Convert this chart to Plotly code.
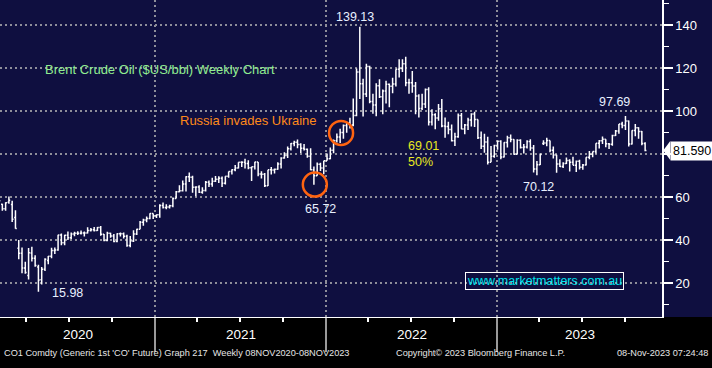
import pandas as pd
import plotly.graph_objects as go

# ---------------- data (weekly Brent, generic 1st future) ----------------
first_week = "2020-02-03"

open_2020 = [60.7, 56.6, 54.5, 57.5, 56.5, 50.5, 36.2, 33.9, 27.0, 23.5, 34.0, 31.5, 27.5, 21.5, 26.4, 30.5, 32.5, 35.1, 35.3, 42.3, 38.7, 42.2, 41.0, 42.8, 43.2, 43.1, 43.3, 43.3, 44.4, 44.8, 44.4, 45.8, 42.7, 39.8, 43.2, 41.9, 39.3, 42.9, 42.9, 41.8, 37.5, 39.5, 42.8, 45.0, 48.2, 49.3, 50.0, 52.3, 51.3]
high_2020 = [61.0, 56.9, 57.6, 60.2, 58.3, 53.8, 40.0, 36.5, 29.9, 36.3, 36.9, 32.9, 28.5, 27.4, 31.5, 32.6, 36.4, 36.5, 42.4, 43.0, 42.5, 43.9, 43.5, 43.8, 44.1, 44.4, 44.0, 45.9, 45.6, 46.0, 46.1, 46.5, 42.8, 43.8, 43.4, 42.8, 43.2, 43.5, 43.5, 42.5, 41.9, 44.5, 45.2, 48.8, 49.9, 50.9, 52.5, 52.3, 51.9]
low_2020 = [57.6, 53.6, 53.6, 56.9, 48.4, 45.2, 31.0, 24.5, 24.3, 21.6, 30.0, 27.6, 15.98, 19.3, 25.6, 28.7, 31.5, 33.5, 35.0, 37.6, 37.6, 40.0, 40.5, 41.8, 42.3, 42.6, 41.6, 43.0, 44.0, 44.0, 44.2, 42.0, 39.4, 39.4, 41.0, 38.9, 39.0, 41.6, 40.7, 36.9, 36.6, 39.1, 42.3, 45.0, 46.6, 48.2, 49.7, 49.8, 50.2]
close_2020 = [58.2, 54.5, 57.3, 58.5, 49.7, 45.3, 33.9, 27.0, 24.9, 34.1, 31.5, 28.1, 21.4, 26.4, 31.0, 32.5, 35.1, 35.3, 42.3, 38.7, 42.2, 41.0, 42.8, 43.2, 43.1, 43.3, 43.3, 44.4, 44.8, 44.4, 45.8, 42.7, 39.8, 43.2, 41.9, 39.3, 42.9, 42.9, 41.8, 37.5, 39.5, 42.8, 45.0, 48.2, 49.3, 50.0, 52.3, 51.3, 51.8]

open_2021 = [51.8, 56.0, 55.1, 55.4, 55.9, 59.3, 62.4, 62.9, 66.1, 69.4, 69.2, 64.5, 64.6, 62.2, 63.0, 66.8, 66.1, 67.3, 68.3, 68.7, 66.4, 69.6, 71.9, 72.7, 73.5, 76.2, 76.2, 75.6, 73.6, 74.1, 76.3, 70.7, 70.6, 65.2, 72.7, 72.6, 72.9, 75.3, 78.1, 79.3, 82.4, 84.9, 85.5, 84.4, 82.7, 82.2, 78.9, 72.7, 69.9, 75.2, 73.5, 76.9]
high_2021 = [56.6, 57.4, 56.6, 56.4, 59.8, 62.8, 65.5, 67.7, 69.6, 71.4, 69.9, 65.0, 65.5, 64.5, 67.4, 67.7, 69.0, 69.8, 69.7, 69.5, 69.6, 71.9, 72.9, 74.9, 76.2, 76.6, 77.8, 77.1, 74.1, 76.4, 76.3, 72.0, 71.1, 72.7, 73.9, 73.2, 76.1, 78.5, 80.8, 83.5, 85.1, 86.1, 86.7, 85.0, 84.6, 82.6, 82.7, 74.2, 76.0, 75.9, 76.9, 80.2]
low_2021 = [50.4, 54.6, 54.3, 54.7, 55.2, 59.3, 62.2, 62.6, 62.5, 67.0, 62.0, 60.3, 61.9, 61.5, 62.6, 64.6, 64.8, 67.0, 66.5, 64.6, 65.8, 68.9, 70.5, 72.0, 73.2, 74.0, 73.2, 72.9, 67.4, 72.8, 69.6, 68.6, 64.6, 65.1, 70.5, 70.9, 72.7, 73.2, 77.8, 78.1, 81.6, 83.6, 82.7, 80.5, 81.6, 78.2, 72.4, 65.72, 69.9, 72.1, 70.6, 76.8]
close_2021 = [56.0, 55.1, 55.4, 55.9, 59.3, 62.4, 62.9, 66.1, 69.4, 69.2, 64.5, 64.6, 62.2, 63.0, 66.8, 66.1, 67.3, 68.3, 68.7, 66.4, 69.6, 71.9, 72.7, 73.5, 76.2, 76.2, 75.6, 73.6, 74.1, 76.3, 70.7, 70.6, 65.2, 72.7, 72.6, 72.9, 75.3, 78.1, 79.3, 82.4, 84.9, 85.5, 84.4, 82.7, 82.2, 78.9, 72.7, 69.9, 75.2, 73.5, 76.9, 77.8]

open_2022 = [77.8, 81.75, 86.1, 87.9, 90.0, 93.3, 94.4, 93.5, 97.9, 118.1, 112.7, 107.9, 120.7, 104.4, 102.8, 111.7, 106.65, 109.3, 112.4, 111.55, 112.55, 119.4, 119.7, 122.0, 113.1, 113.1, 111.6, 107.0, 101.2, 103.2, 110.0, 94.9, 98.2, 96.7, 101.0, 93.0, 92.8, 91.35, 86.15, 88.0, 97.9, 91.6, 93.5, 95.8, 98.6, 96.0, 87.6, 83.6, 85.6, 76.1, 79.0, 83.9]
high_2022 = [83.0, 86.7, 89.5, 91.7, 93.7, 95.0, 96.8, 105.8, 119.8, 139.13, 115.0, 122.0, 121.0, 108.0, 112.9, 114.8, 110.0, 114.0, 112.8, 115.5, 119.4, 124.0, 124.0, 125.2, 115.0, 118.6, 113.5, 107.8, 108.0, 110.5, 111.0, 100.8, 98.9, 103.2, 105.6, 97.0, 95.0, 93.7, 89.9, 98.8, 99.1, 93.9, 96.8, 98.9, 99.6, 96.0, 90.4, 89.4, 88.0, 83.7, 84.3, 86.3]
low_2022 = [77.5, 80.3, 85.3, 85.1, 87.1, 89.9, 91.8, 92.9, 97.5, 105.6, 97.4, 106.5, 103.6, 98.7, 97.6, 106.0, 98.5, 103.5, 101.7, 108.2, 111.4, 115.6, 118.1, 111.5, 108.0, 108.5, 98.5, 97.0, 100.5, 101.4, 93.2, 93.3, 91.5, 95.5, 92.4, 87.5, 89.2, 85.8, 83.7, 87.6, 91.5, 89.2, 91.1, 92.8, 92.5, 87.0, 82.3, 80.6, 75.1, 76.1, 78.3, 82.0]
close_2022 = [81.75, 86.1, 87.9, 90.0, 93.3, 94.4, 93.5, 97.9, 118.1, 112.7, 107.9, 120.7, 104.4, 102.8, 111.7, 106.65, 109.3, 112.4, 111.55, 112.55, 119.4, 119.7, 122.0, 113.1, 113.1, 111.6, 107.0, 101.2, 103.2, 110.0, 94.9, 98.2, 96.7, 101.0, 93.0, 92.8, 91.35, 86.15, 87.96, 97.9, 91.6, 93.5, 95.8, 98.6, 96.0, 87.6, 83.6, 85.6, 76.1, 79.0, 83.9, 85.9]

open_2023 = [85.9, 78.6, 85.3, 87.6, 86.7, 79.9, 86.4, 83.0, 83.2, 85.8, 82.8, 72.97, 74.99, 84.9, 85.1, 86.3, 81.7, 79.5, 75.3, 74.2, 75.6, 76.95, 76.1, 74.8, 76.6, 73.85, 74.9, 78.5, 79.9, 81.1, 84.99, 86.2, 86.8, 84.8, 84.5, 88.55, 90.65, 93.9, 93.3, 95.3, 84.6, 90.9, 92.2, 90.5, 84.9]
high_2023 = [86.4, 85.4, 88.5, 89.1, 86.9, 86.9, 86.9, 84.6, 86.4, 86.8, 84.2, 76.7, 80.2, 86.4, 87.5, 86.3, 83.5, 79.6, 77.5, 76.1, 78.4, 77.6, 78.7, 77.0, 77.3, 75.4, 78.5, 81.4, 81.2, 85.0, 86.5, 88.1, 86.9, 85.1, 89.0, 91.2, 94.0, 95.0, 97.69, 95.6, 91.0, 94.0, 92.4, 90.7, 85.5]
low_2023 = [77.6, 78.4, 83.0, 85.5, 79.6, 79.8, 82.6, 80.2, 82.5, 81.5, 71.4, 70.12, 74.9, 84.2, 83.6, 80.8, 77.9, 71.3, 74.0, 73.5, 75.3, 71.9, 74.8, 71.6, 72.8, 72.7, 74.6, 77.5, 78.5, 80.2, 82.5, 84.7, 83.1, 82.3, 83.8, 88.4, 89.4, 92.0, 91.2, 83.5, 84.4, 88.2, 87.1, 84.1, 81.3]
close_2023 = [78.6, 85.3, 87.6, 86.7, 79.9, 86.4, 83.0, 83.2, 85.8, 82.8, 72.97, 74.99, 79.8, 85.1, 86.3, 81.7, 79.5, 75.3, 74.2, 75.6, 76.95, 76.1, 74.8, 76.6, 73.85, 74.9, 78.5, 79.9, 81.1, 84.99, 86.2, 86.8, 84.8, 84.5, 88.55, 90.65, 93.9, 93.3, 95.3, 84.6, 90.9, 92.2, 90.5, 84.9, 81.59]

y_ticks = [20, 40, 60, 80, 100, 120, 140]
# the 80 label sits under the last-price box in the reference
y_tick_text = ["20", "40", "60", "", "100", "120", "140"]
year_labels = ["2020", "2021", "2022", "2023"]
year_label_dates = ["2020-07-20", "2021-07-03", "2022-07-03", "2023-06-26"]

# marked points: (label, date, value, xshift, yshift)
price_labels = [
    ("139.13", "2022-03-14", 139.13, -5, 10),
    ("65.72", "2021-12-06", 65.72, 7, -24),
    ("15.98", "2020-04-27", 15.98, 29, -1),
    ("70.12", "2023-03-27", 70.12, 2, -12),
    ("97.69", "2023-10-02", 97.69, -11, 14),
]

# ---------------- build ----------------
opens = open_2020 + open_2021 + open_2022 + open_2023
highs = high_2020 + high_2021 + high_2022 + high_2023
lows = low_2020 + low_2021 + low_2022 + low_2023
closes = close_2020 + close_2021 + close_2022 + close_2023
dates = pd.date_range(first_week, periods=len(closes), freq="7D")

NAVY = "#0f0f40"
GRID = "#8e8e9a"
FONT = "Liberation Sans, Arial, sans-serif"

fig = go.Figure()
fig.add_trace(go.Ohlc(
    x=dates, open=opens, high=highs, low=lows, close=closes,
    increasing=dict(line=dict(color="white", width=1.5)),
    decreasing=dict(line=dict(color="white", width=1.5)),
    tickwidth=0.4, hoverinfo="skip", showlegend=False,
))

fig.update_layout(
    width=712, height=368,
    margin=dict(l=0, r=50, t=0, b=51),
    paper_bgcolor=NAVY, plot_bgcolor=NAVY,
    showlegend=False,
    font=dict(family=FONT, color="white"),
    xaxis=dict(
        type="date", range=["2020-02-05", "2023-12-19"],
        rangeslider=dict(visible=False),
        tick0="2020-01-01", dtick="M12",
        ticks="outside", ticklen=34, tickwidth=1.5, tickcolor="#9a9a9a",
        showticklabels=False,
        showgrid=True, gridcolor=GRID, gridwidth=2, griddash="2px,3px",
        showline=True, linecolor="white", linewidth=1,
        zeroline=False,
        minor=dict(dtick="M3", tick0="2020-01-01", ticks="outside", ticklen=4,
                   tickwidth=1.5, tickcolor="white", showgrid=False),
    ),
    yaxis=dict(
        side="right", range=[4.2, 151.6],
        tickvals=y_ticks, ticktext=y_tick_text,
        ticks="outside", ticklen=9, tickwidth=2, tickcolor="white",
        tickfont=dict(size=13, color="white", family=FONT),
        showgrid=True, gridcolor=GRID, gridwidth=2, griddash="2px,3px",
        showline=True, linecolor="white", linewidth=1.5,
        zeroline=False,
        minor=dict(dtick=10, tick0=0, ticks="outside", ticklen=5, tickwidth=1,
                   tickcolor="white", showgrid=False),
    ),
)

shapes = []
# black footer band
shapes.append(dict(type="rect", xref="paper", yref="paper", x0=-0.02, x1=1.2,
                   y0=-0.25, y1=0, fillcolor="black", line=dict(width=0), layer="below"))
# orange circles
for d, v in [("2021-12-08", 65.8), ("2022-02-02", 89.8)]:
    shapes.append(dict(type="circle", xref="x", yref="y", xsizemode="pixel", ysizemode="pixel",
                       xanchor=d, yanchor=v, x0=-12, x1=12, y0=-12, y1=12,
                       line=dict(color="#ff6410", width=2.5), layer="above"))
# pointer of last price box
last = closes[-1]
shapes.append(dict(type="path", xref="paper", yref="y",
                   path=f"M 1.0018,{last} L 1.0125,{last + 4.4} L 1.0125,{last - 4.4} Z",
                   fillcolor="white", line=dict(width=0), layer="above"))
fig.update_layout(shapes=shapes)

ann = []
ann.append(dict(text="Brent Crude Oil ($US/bbl) Weekly Chart", xref="paper", yref="paper",
                x=0.2417, y=0.8107, xanchor="center", showarrow=False,
                font=dict(size=13, color="#90ec90")))
ann.append(dict(text="Russia invades Ukraine", xref="paper", yref="paper",
                x=0.3754, y=0.6183, xanchor="center", showarrow=False,
                font=dict(size=13, color="#ff8a1a")))
for txt, d, v, xs, ys in price_labels:
    ann.append(dict(text=txt, xref="x", yref="y", x=d, y=v, xshift=xs, yshift=ys,
                    xanchor="center", showarrow=False, font=dict(size=12.5, color="#e8f0ff")))
ann.append(dict(text="69.01", xref="paper", yref="paper", x=0.6133, y=0.5404, xanchor="left",
                showarrow=False, font=dict(size=12.5, color="#e8e820")))
ann.append(dict(text="50%", xref="paper", yref="paper", x=0.6133, y=0.488, xanchor="left",
                showarrow=False, font=dict(size=12.5, color="#e8e820")))
ann.append(dict(text="www.marketmatters.com.au", xref="paper", yref="paper", x=0.8225, y=0.0836,
                xanchor="center", showarrow=False, bordercolor="white", borderwidth=1, borderpad=1,
                font=dict(size=12.5, color="#00e4ee")))
ann.append(dict(text=f"{last:.3f}", xref="paper", yref="y", x=1.0121, y=last, xanchor="left",
                showarrow=False, bgcolor="white", borderpad=2,
                font=dict(size=12.5, color="black")))
for lab, d in zip(year_labels, year_label_dates):
    ann.append(dict(text=lab, xref="x", yref="paper", x=d, y=-0.0852, xanchor="center",
                    showarrow=False, font=dict(size=13.5, color="white")))
ann.append(dict(text="CO1 Comdty (Generic 1st 'CO' Future) Graph 217\u00a0\u00a0Weekly 08NOV2020-08NOV2023",
                xref="paper", yref="paper", x=0.003, y=-0.1356, xanchor="left", showarrow=False,
                font=dict(size=9.2, color="#e6e6e6")))
ann.append(dict(text="Copyright\u00a9 2023 Bloomberg Finance L.P.", xref="paper", yref="paper",
                x=0.5952, y=-0.1356, xanchor="left", showarrow=False,
                font=dict(size=9.2, color="#e6e6e6")))
ann.append(dict(text="08-Nov-2023 07:24:48", xref="paper", yref="paper",
                x=1.0725, y=-0.1356, xanchor="right", showarrow=False,
                font=dict(size=9.2, color="#e6e6e6")))
fig.update_layout(annotations=ann)

fig.write_html("out.html", config={"displayModeBar": False},
               post_script="document.body.style.margin='0';document.body.style.padding='0';")
